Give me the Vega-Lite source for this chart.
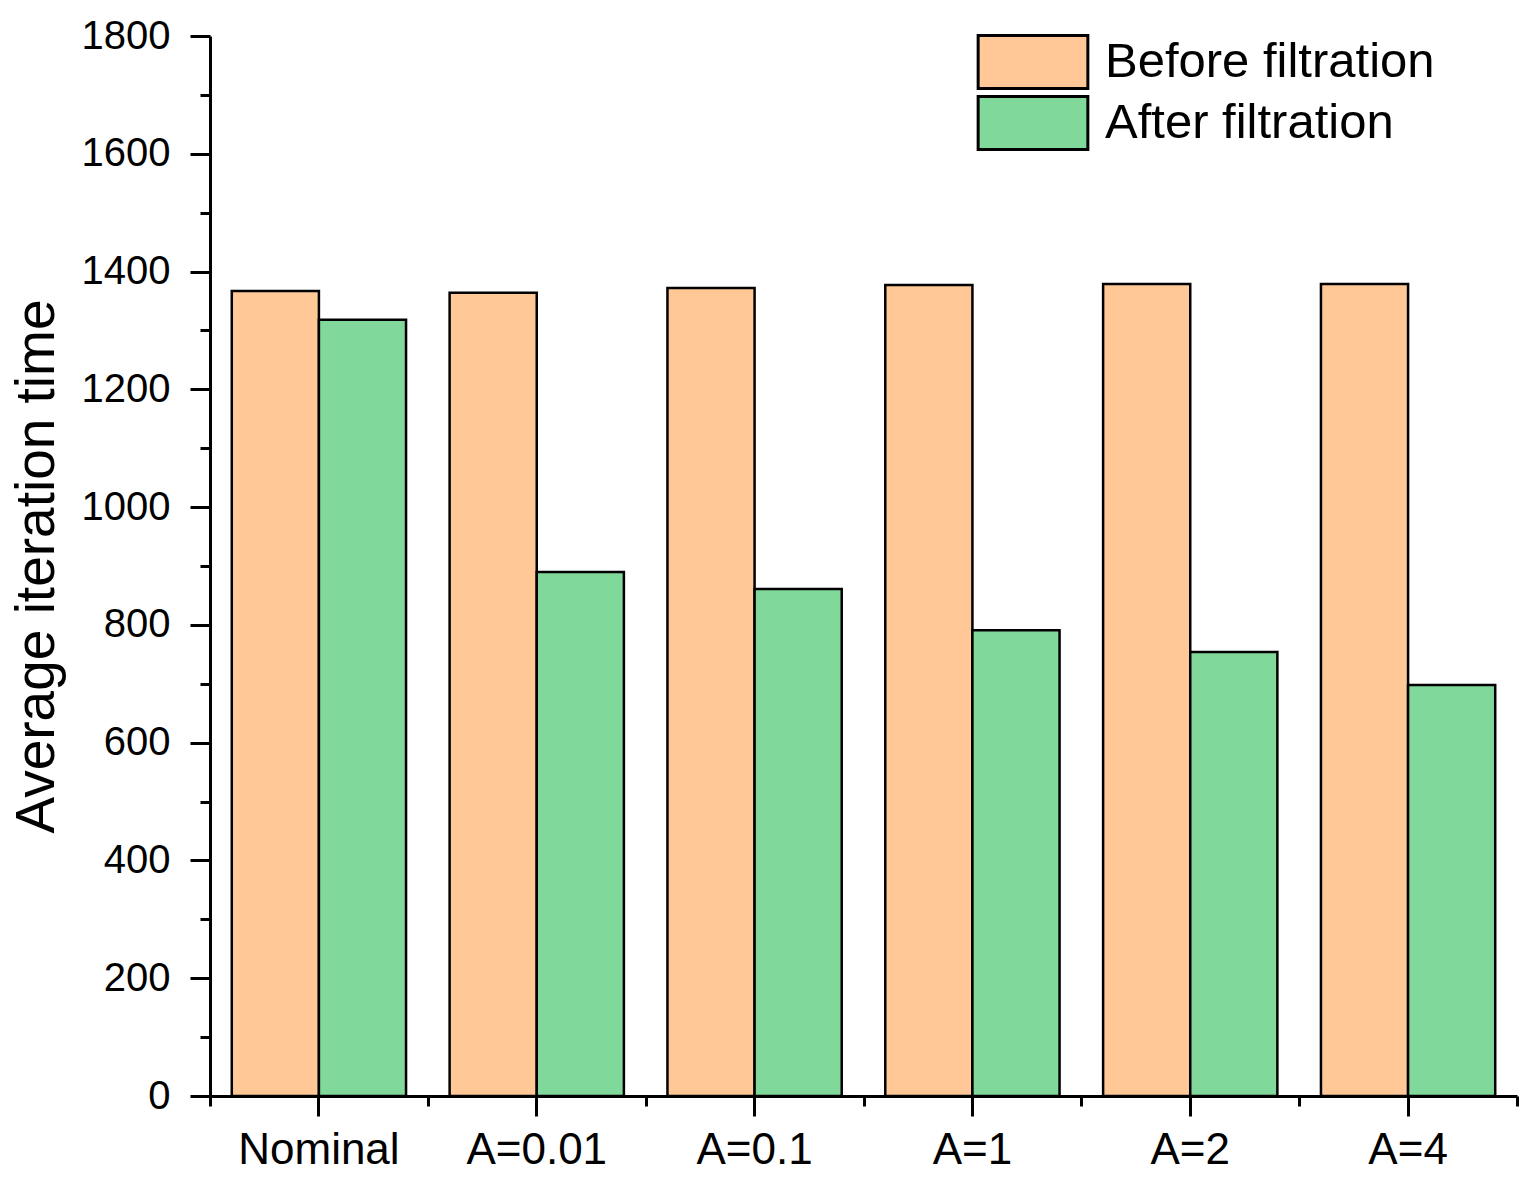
{
  "$schema": "https://vega.github.io/schema/vega-lite/v6.json",
  "width": 1307,
  "height": 1060,
  "autosize": {"type": "none"},
  "padding": {"left": 210, "top": 36, "right": 18, "bottom": 90},
  "background": "white",
  "config": {"view": {"stroke": null}, "font": "Liberation Sans"},
  "data": {
    "values": [
      {"group": "Nominal", "stage": "Before filtration", "value": 1367},
      {"group": "Nominal", "stage": "After filtration", "value": 1318},
      {"group": "A=0.01", "stage": "Before filtration", "value": 1364},
      {"group": "A=0.01", "stage": "After filtration", "value": 890},
      {"group": "A=0.1", "stage": "Before filtration", "value": 1372},
      {"group": "A=0.1", "stage": "After filtration", "value": 861},
      {"group": "A=1", "stage": "Before filtration", "value": 1377},
      {"group": "A=1", "stage": "After filtration", "value": 791},
      {"group": "A=2", "stage": "Before filtration", "value": 1379},
      {"group": "A=2", "stage": "After filtration", "value": 754},
      {"group": "A=4", "stage": "Before filtration", "value": 1379},
      {"group": "A=4", "stage": "After filtration", "value": 698}
    ]
  },
  "layer": [
    {
      "mark": {"type": "bar", "stroke": "black", "strokeWidth": 2.5, "opacity": 1},
      "encoding": {
        "x": {
          "field": "group", "type": "nominal",
          "sort": ["Nominal", "A=0.01", "A=0.1", "A=1", "A=2", "A=4"],
          "scale": {"paddingInner": 0.2, "paddingOuter": 0.1},
          "axis": {
            "orient": "bottom", "title": null, "labelAngle": 0,
            "labelFontSize": 44, "labelColor": "black", "labelPadding": 12,
            "domainColor": "black", "domainWidth": 3,
            "tickColor": "black", "tickWidth": 3, "tickSize": 20
          }
        },
        "xOffset": {
          "field": "stage", "type": "nominal",
          "sort": ["Before filtration", "After filtration"],
          "scale": {"paddingInner": 0, "paddingOuter": 0}
        },
        "y": {
          "field": "value", "type": "quantitative",
          "scale": {"domain": [0, 1800], "nice": false},
          "axis": {
            "title": "Average iteration time", "titleFontSize": 55, "titleFontWeight": "normal",
            "titleColor": "black", "titlePadding": 16,
            "values": [0, 100, 200, 300, 400, 500, 600, 700, 800, 900, 1000, 1100, 1200, 1300, 1400, 1500, 1600, 1700, 1800],
            "labelExpr": "datum.value % 200 === 0 ? datum.label : ''",
            "format": "d",
            "labelFontSize": 40, "labelColor": "black", "labelPadding": 20,
            "domainColor": "black", "domainWidth": 3, "grid": false,
            "tickColor": "black", "tickWidth": 3,
            "tickSize": {"condition": {"test": "datum.value % 200 === 0", "value": 20}, "value": 10}
          }
        },
        "color": {
          "field": "stage", "type": "nominal",
          "sort": ["Before filtration", "After filtration"],
          "scale": {"domain": ["Before filtration", "After filtration"], "range": ["#FFC896", "#80D99B"]},
          "legend": {
            "title": null, "orient": "none", "legendX": 795, "legendY": -2,
            "symbolType": "M-2.07,-1H2.07V1H-2.07Z",
            "symbolSize": 2809,
            "symbolStrokeColor": "black", "symbolStrokeWidth": 3, "symbolOpacity": 1,
            "labelFontSize": 49, "labelColor": "black", "labelOffset": 44, "labelLimit": 0,
            "rowPadding": -5
          }
        }
      }
    },
    {
      "mark": {"type": "bar", "opacity": 0},
      "encoding": {
        "x": {
          "field": "group", "type": "nominal",
          "sort": ["Nominal", "A=0.01", "A=0.1", "A=1", "A=2", "A=4"],
          "scale": {"paddingInner": 0, "paddingOuter": 0},
          "axis": {
            "orient": "bottom", "title": null, "labels": false, "domain": false,
            "tickBand": "extent", "tickColor": "black", "tickWidth": 3, "tickSize": 10
          }
        },
        "y": {"field": "value", "type": "quantitative"}
      }
    }
  ],
  "resolve": {"axis": {"x": "independent"}, "scale": {"x": "independent"}}
}
